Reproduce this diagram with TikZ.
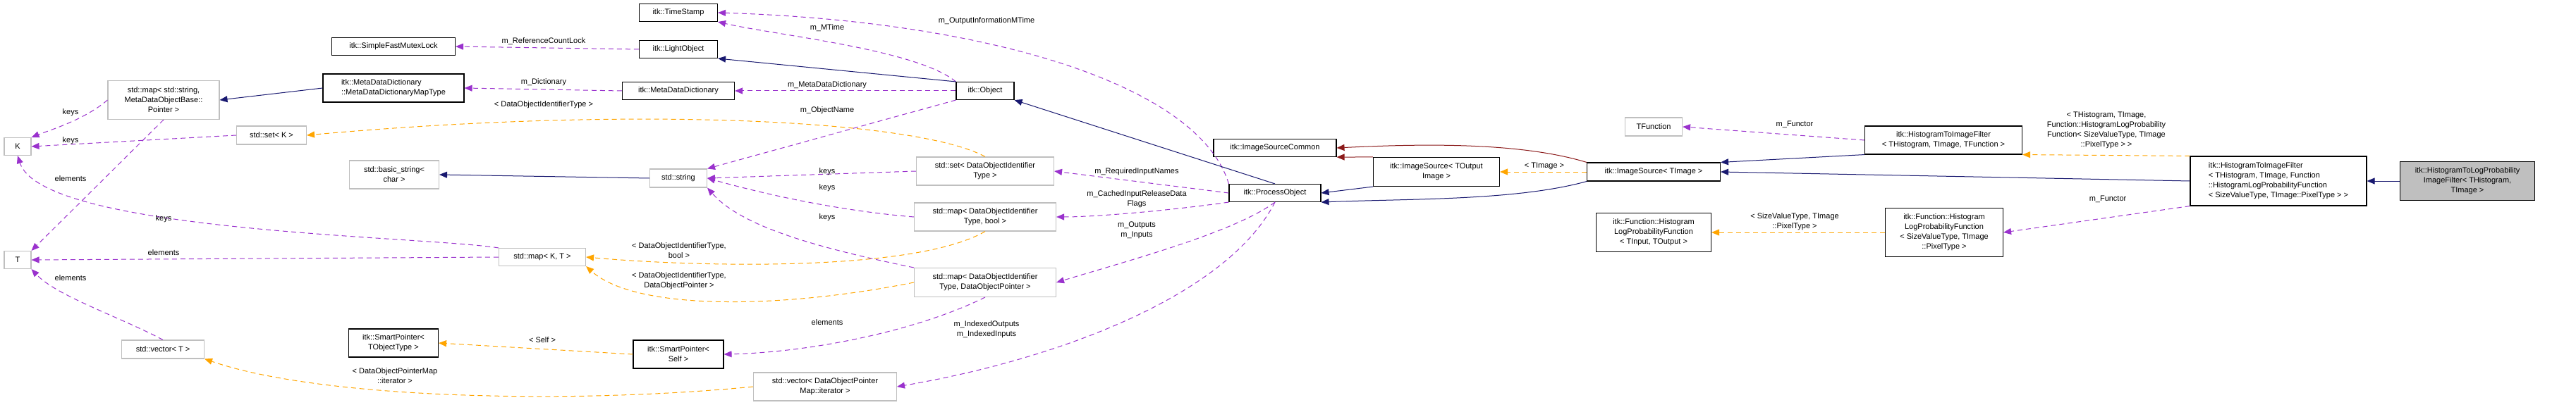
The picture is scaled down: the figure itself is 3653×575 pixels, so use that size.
\documentclass[tikz,border=0pt]{standalone}
\usepackage{fontspec}
\setmainfont{Liberation Sans}
\usetikzlibrary{arrows.meta}
\definecolor{purp}{HTML}{9A32CD}
\definecolor{orng}{HTML}{FFA500}
\definecolor{navy}{HTML}{191970}
\definecolor{dred}{HTML}{8B1A1A}
\definecolor{gbord}{HTML}{BFBFBF}
\tikzset{
  bx/.style={draw=black, line width=1.1pt, rectangle, align=center, inner sep=1pt, font=\fontsize{11}{14}\selectfont},
  gx/.style={bx, draw=gbord},
  lb/.style={align=center, inner sep=0pt, font=\fontsize{11}{14}\selectfont},
  tip/.style={-{Triangle[length=11pt,width=9pt]}},
  use/.style={tip, purp, dashed, dash pattern=on 7pt off 5pt, line width=1pt},
  tpl/.style={tip, orng, dashed, dash pattern=on 7pt off 5pt, line width=1pt},
  inh/.style={tip, navy, line width=1pt},
  pinh/.style={tip, dred, line width=1pt},
}
\begin{document}
\begin{tikzpicture}[x=1pt,y=-1pt]
\useasboundingbox (0,0) rectangle (3653,575);
\node[bx, minimum width=175, minimum height=25] (mutex) at (558,66) {itk::SimpleFastMutexLock};
\node[bx, minimum width=200, minimum height=40, align=left] (maptype) at (558,125) {itk::MetaDataDictionary\\::MetaDataDictionaryMapType};
\node[gx, minimum width=158, minimum height=55] (mapstr) at (232,142) {std::map\textless{} std::string,\\ MetaDataObjectBase::\\Pointer \textgreater{}};
\node[gx, minimum width=99, minimum height=26] (setK) at (385,192) {std::set\textless{} K \textgreater{}};
\node[gx, minimum width=38, minimum height=25] (K) at (25,208) {K};
\node[gx, minimum width=127, minimum height=40] (bstr) at (559,248) {std::basic\_string\textless{}\\char \textgreater{}};
\node[gx, minimum width=123, minimum height=25] (mapKT) at (769,365) {std::map\textless{} K, T \textgreater{}};
\node[gx, minimum width=38, minimum height=25] (T) at (25,369) {T};
\node[bx, minimum width=127, minimum height=40] (spT) at (558,487) {itk::SmartPointer\textless{}\\TObjectType \textgreater{}};
\node[gx, minimum width=117, minimum height=26] (vecT) at (231,496) {std::vector\textless{} T \textgreater{}};
\node[bx, minimum width=111, minimum height=25] (ts) at (962,18) {itk::TimeStamp};
\node[bx, minimum width=111, minimum height=25] (light) at (962,70) {itk::LightObject};
\node[bx, minimum width=159, minimum height=25] (mdd) at (962,129) {itk::MetaDataDictionary};
\node[bx, minimum width=82, minimum height=25] (obj) at (1397,129) {itk::Object};
\node[gx, minimum width=81, minimum height=26] (str) at (962,253) {std::string};
\node[gx, minimum width=195, minimum height=40] (setD) at (1397,243) {std::set\textless{} DataObjectIdentifier\\Type \textgreater{}};
\node[gx, minimum width=201, minimum height=40] (mapB) at (1397,308) {std::map\textless{} DataObjectIdentifier\\Type, bool \textgreater{}};
\node[gx, minimum width=201, minimum height=41] (mapP) at (1397,401) {std::map\textless{} DataObjectIdentifier\\Type, DataObjectPointer \textgreater{}};
\node[bx, minimum width=128, minimum height=40] (spS) at (962,503) {itk::SmartPointer\textless{}\\Self \textgreater{}};
\node[gx, minimum width=203, minimum height=40] (vecD) at (1170,549) {std::vector\textless{} DataObjectPointer\\Map::iterator \textgreater{}};
\node[bx, minimum width=130, minimum height=25] (po) at (1808,274) {itk::ProcessObject};
\node[bx, minimum width=174, minimum height=25] (isc) at (1808,210) {itk::ImageSourceCommon};
\node[bx, minimum width=179, minimum height=41] (isTO) at (2037,244) {itk::ImageSource\textless{} TOutput\\Image \textgreater{}};
\node[bx, minimum width=189, minimum height=26] (isTI) at (2345,244) {itk::ImageSource\textless{} TImage \textgreater{}};
\node[gx, minimum width=81, minimum height=26] (tfun) at (2345,180) {TFunction};
\node[bx, minimum width=223, minimum height=40] (htif) at (2756,199) {itk::HistogramToImageFilter\\\textless{} THistogram, TImage, TFunction \textgreater{}};
\node[bx, minimum width=163, minimum height=55] (hlpf1) at (2345,330) {itk::Function::Histogram\\LogProbabilityFunction\\\textless{} TInput, TOutput \textgreater{}};
\node[bx, minimum width=167, minimum height=69] (hlpf2) at (2757,330) {itk::Function::Histogram\\LogProbabilityFunction\\\textless{} SizeValueType, TImage\\::PixelType \textgreater{}};
\node[bx, minimum width=250, minimum height=70, align=left] (htifF) at (3231,257) {itk::HistogramToImageFilter\\\textless{} THistogram, TImage, Function\\::HistogramLogProbabilityFunction\\\textless{} SizeValueType, TImage::PixelType \textgreater{} \textgreater{}};
\node[bx, minimum width=191, minimum height=55, fill=gbord] (final) at (3499,257) {itk::HistogramToLogProbability\\ImageFilter\textless{} THistogram,\\ TImage \textgreater{}};

\draw[use] (obj.north west) .. controls (1300,70) and (1100,50) .. (ts.south east);
\node[lb] at (1173,40) {m\_MTime};
\draw[use] (po.north west) .. controls (1700,120) and (1400,30) .. (ts.east);
\node[lb] at (1399,30) {m\_OutputInformationMTime};
\draw[use] (light.west) -- (mutex.east);
\node[lb] at (771,59) {m\_ReferenceCountLock};
\draw[inh] (obj.north west) -- (light.south east);
\draw[use] (obj.west) -- (mdd.east);
\node[lb] at (1173,121) {m\_MetaDataDictionary};
\draw[use] (mdd.west) -- (maptype.east);
\node[lb] at (771,117) {m\_Dictionary};
\draw[inh] (maptype.west) -- (mapstr.east);
\draw[use] (mapstr.west) .. controls (120,170) and (70,185) .. (K.north east);
\node[lb] at (100,160) {keys};
\draw[use] (mapstr.south) -- (T.north east);
\node[lb] at (100,254) {elements};
\draw[use] (setK.west) -- (K.east);
\node[lb] at (100,200) {keys};
\draw[tpl] (setD.north) .. controls (1300,170) and (900,150) .. (setK.east);
\node[lb] at (771,149) {\textless{} DataObjectIdentifierType \textgreater{}};
\draw[inh] (str.west) -- (bstr.east);
\draw[use] (obj.south west) -- (str.north east);
\node[lb] at (1173,157) {m\_ObjectName};
\draw[use] (setD.west) -- (str.east);
\node[lb] at (1173,244) {keys};
\draw[use] (mapB.west) .. controls (1200,300) and (1100,280) .. (str.east);
\node[lb] at (1173,267) {keys};
\draw[use] (mapP.north west) .. controls (1150,350) and (1050,320) .. (str.south east);
\node[lb] at (1173,309) {keys};
\draw[use] (mapKT.north west) .. controls (600,335) and (60,330) .. (K.south);
\node[lb] at (232,311) {keys};
\draw[use] (mapKT.west) -- (T.east);
\node[lb] at (232,359) {elements};
\draw[tpl] (mapB.south) .. controls (1300,385) and (1000,380) .. (mapKT.east);
\node[lb] at (963,356) {\textless{} DataObjectIdentifierType,\\bool \textgreater{}};
\draw[tpl] (mapP.west) .. controls (1100,440) and (900,440) .. (mapKT.south east);
\node[lb] at (963,399) {\textless{} DataObjectIdentifierType,\\DataObjectPointer \textgreater{}};
\draw[use] (vecT.north) .. controls (170,450) and (80,420) .. (T.south east);
\node[lb] at (100,395) {elements};
\draw[tpl] (vecD.west) .. controls (800,575) and (450,565) .. (vecT.south east);
\node[lb] at (560,534) {\textless{} DataObjectPointerMap\\::iterator \textgreater{}};
\draw[tpl] (spS.west) -- (spT.east);
\node[lb] at (769,483) {\textless{} Self \textgreater{}};
\draw[use] (mapP.south) .. controls (1300,470) and (1150,500) .. (spS.east);
\node[lb] at (1173,458) {elements};
\draw[use] (po.west) -- (setD.east);
\node[lb] at (1612,244) {m\_RequiredInputNames};
\draw[use] (po.south west) .. controls (1650,300) and (1550,308) .. (mapB.east);
\node[lb] at (1612,283) {m\_CachedInputReleaseData\\Flags};
\draw[use] (po.south) .. controls (1750,330) and (1600,370) .. (mapP.east);
\node[lb] at (1612,327) {m\_Outputs\\m\_Inputs};
\draw[use] (po.south) .. controls (1740,420) and (1500,510) .. (vecD.east);
\node[lb] at (1399,468) {m\_IndexedOutputs\\m\_IndexedInputs};
\draw[inh] (po.north) -- (obj.south east);
\draw[pinh] (isTO.north west) -- (isc.south east);
\draw[inh] (isTO.south west) -- (po.east);
\draw[pinh] (isTI.north west) .. controls (2150,200) and (2000,205) .. (isc.east);
\draw[inh] (isTI.south west) .. controls (2150,285) and (2000,282) .. (po.south east);
\draw[tpl] (isTI.west) -- (isTO.east);
\node[lb] at (2190,236) {\textless{} TImage \textgreater{}};
\draw[inh] (htif.south west) -- (isTI.north east);
\draw[use] (htif.west) -- (tfun.east);
\node[lb] at (2545,177) {m\_Functor};
\draw[inh] (htifF.west) -- (isTI.east);
\draw[tpl] (htifF.north west) -- (htif.south east);
\node[lb] at (2987,185) {\textless{} THistogram, TImage,\\Function::HistogramLogProbability\\Function\textless{} SizeValueType, TImage\\::PixelType \textgreater{} \textgreater{}};
\draw[use] (htifF.south west) -- (hlpf2.east);
\node[lb] at (2989,283) {m\_Functor};
\draw[tpl] (hlpf2.west) -- (hlpf1.east);
\node[lb] at (2545,315) {\textless{} SizeValueType, TImage\\::PixelType \textgreater{}};
\draw[inh] (final.west) -- (htifF.east);
\end{tikzpicture}
\end{document}
